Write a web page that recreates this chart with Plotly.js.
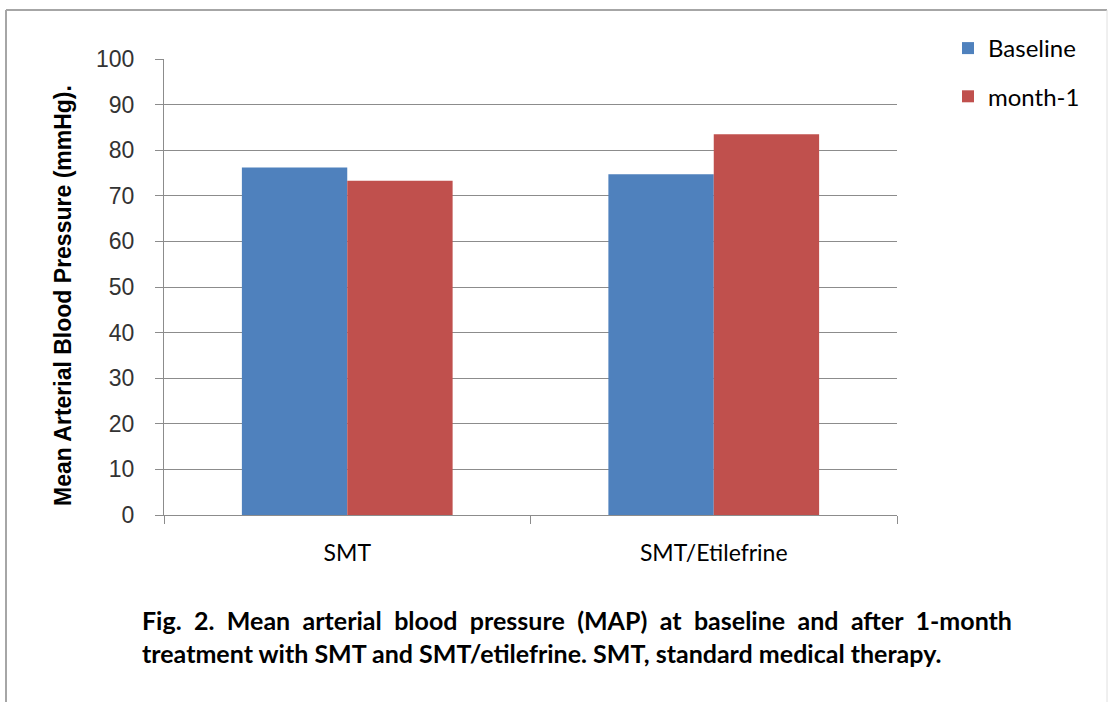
<!DOCTYPE html>
<html>
<head>
<meta charset="utf-8">
<script src="https://cdn.plot.ly/plotly-3.0.1.min.js"></script>
<style>
  html, body { margin: 0; padding: 0; background: #fff; }
  #chart { width: 1108px; height: 702px; }
</style>
</head>
<body>
<div id="chart"></div>
<script>
const categories = ["SMT", "SMT/Etilefrine"];
const seriesNames = ["Baseline", "month-1"];
const baselineValues = [76.2, 74.7];
const month1Values = [73.3, 83.5];
const yTickValues = [0, 10, 20, 30, 40, 50, 60, 70, 80, 90, 100];
const yTitle = "Mean Arterial Blood Pressure (mmHg).";
const captionLines = [
  "Fig. 2. Mean arterial blood pressure (MAP) at baseline and after 1-month",
  "treatment with SMT and SMT/etilefrine. SMT, standard medical therapy."
];

const colors = ["#4F81BD", "#C0504D"];

const traces = [
  { type: "bar", name: seriesNames[0], x: categories, y: baselineValues,
    marker: { color: colors[0] }, legendgroup: "a", hoverinfo: "x+y+name" },
  { type: "bar", name: seriesNames[1], x: categories, y: month1Values,
    marker: { color: colors[1] }, legendgroup: "b", hoverinfo: "x+y+name" }
];

// plot area in pixels: x 164..897, y 59..515
const L = 164, R = 897, T = 59, B = 515, W = 1108, H = 702;
const px = v => (v - L) / (R - L);
const py = v => (B - v) / (B - T);

const captionFont = { family: "Lato, sans-serif", size: 25, color: "#000", weight: "bold" };

const layout = {
  width: W, height: H,
  margin: { l: L, r: W - R, t: T, b: H - B, pad: 0 },
  paper_bgcolor: "#ffffff", plot_bgcolor: "#ffffff",
  barmode: "group", bargap: 0.425, bargroupgap: 0,
  font: { family: "Lato, 'Liberation Sans', sans-serif", color: "#000" },
  showlegend: true,
  legend: {
    x: px(948), y: py(26), xanchor: "left", yanchor: "top",
    font: { family: "Lato, sans-serif", size: 24, color: "#000" },
    tracegroupgap: 14, itemwidth: 30, bgcolor: "rgba(0,0,0,0)"
  },
  xaxis: {
    type: "category",
    tickson: "boundaries",
    ticks: "outside", ticklen: 8, tickcolor: "#8c8c8c", tickwidth: 1,
    showline: true, linecolor: "#8c8c8c", linewidth: 1,
    showgrid: false, zeroline: false,
    tickfont: { family: "Lato, sans-serif", size: 23, color: "#000" },
    ticklabelstandoff: 17,
    fixedrange: true
  },
  yaxis: {
    range: [0, 100], tickvals: yTickValues, ticktext: yTickValues.map(String),
    ticks: "outside", ticklen: 8, tickcolor: "#8c8c8c", tickwidth: 1,
    showline: true, linecolor: "#8c8c8c", linewidth: 1,
    showgrid: true, gridcolor: "#8c8c8c", gridwidth: 1,
    zeroline: false,
    tickfont: { family: "'Liberation Sans', Arial, sans-serif", size: 23, color: "#333" },
    ticklabelstandoff: 16,
    fixedrange: true
  },
  shapes: [
    { type: "line", xref: "paper", yref: "paper", x0: px(6), x1: px(6), y0: py(10), y1: py(702),
      line: { color: "#a6a6a6", width: 2 } },
    { type: "line", xref: "paper", yref: "paper", x0: px(6), x1: px(1107), y0: py(10), y1: py(10),
      line: { color: "#a6a6a6", width: 2 } },
    { type: "line", xref: "paper", yref: "paper", x0: px(1107), x1: px(1107), y0: py(10), y1: py(702),
      line: { color: "#e0e0e0", width: 1 } }
  ],
  annotations: [
    { text: yTitle, xref: "paper", yref: "paper", x: px(63), y: py(296),
      xanchor: "center", yanchor: "middle", textangle: -90, showarrow: false,
      font: { family: "'Liberation Sans', Arial, sans-serif", size: 23, color: "#000", weight: "bold" } }
  ].concat(captionLines.map((t, i) => ({
    text: t, xref: "paper", yref: "paper",
    x: px(140), y: py(620 + i * 33), xanchor: "left", yanchor: "middle",
    showarrow: false, font: captionFont
  })))
};

Plotly.newPlot("chart", traces, layout, { displayModeBar: false }).then(gd => {
  // justify the first caption line to span 140..1010 px like the reference
  const texts = gd.querySelectorAll(".annotation .annotation-text");
  texts.forEach(el => {
    if (el.textContent === captionLines[0]) {
      const before = el.getBBox();
      const spaces = (captionLines[0].match(/ /g) || []).length;
      const extra = (870 - before.width) / spaces;
      if (extra > 0) {
        el.setAttribute("word-spacing", extra.toFixed(2));
        const after = el.getBBox();
        const x = parseFloat(el.getAttribute("x") || "0");
        el.setAttribute("x", (x + (before.x - after.x)).toFixed(2));
      }
    }
  });
});
</script>
</body>
</html>
